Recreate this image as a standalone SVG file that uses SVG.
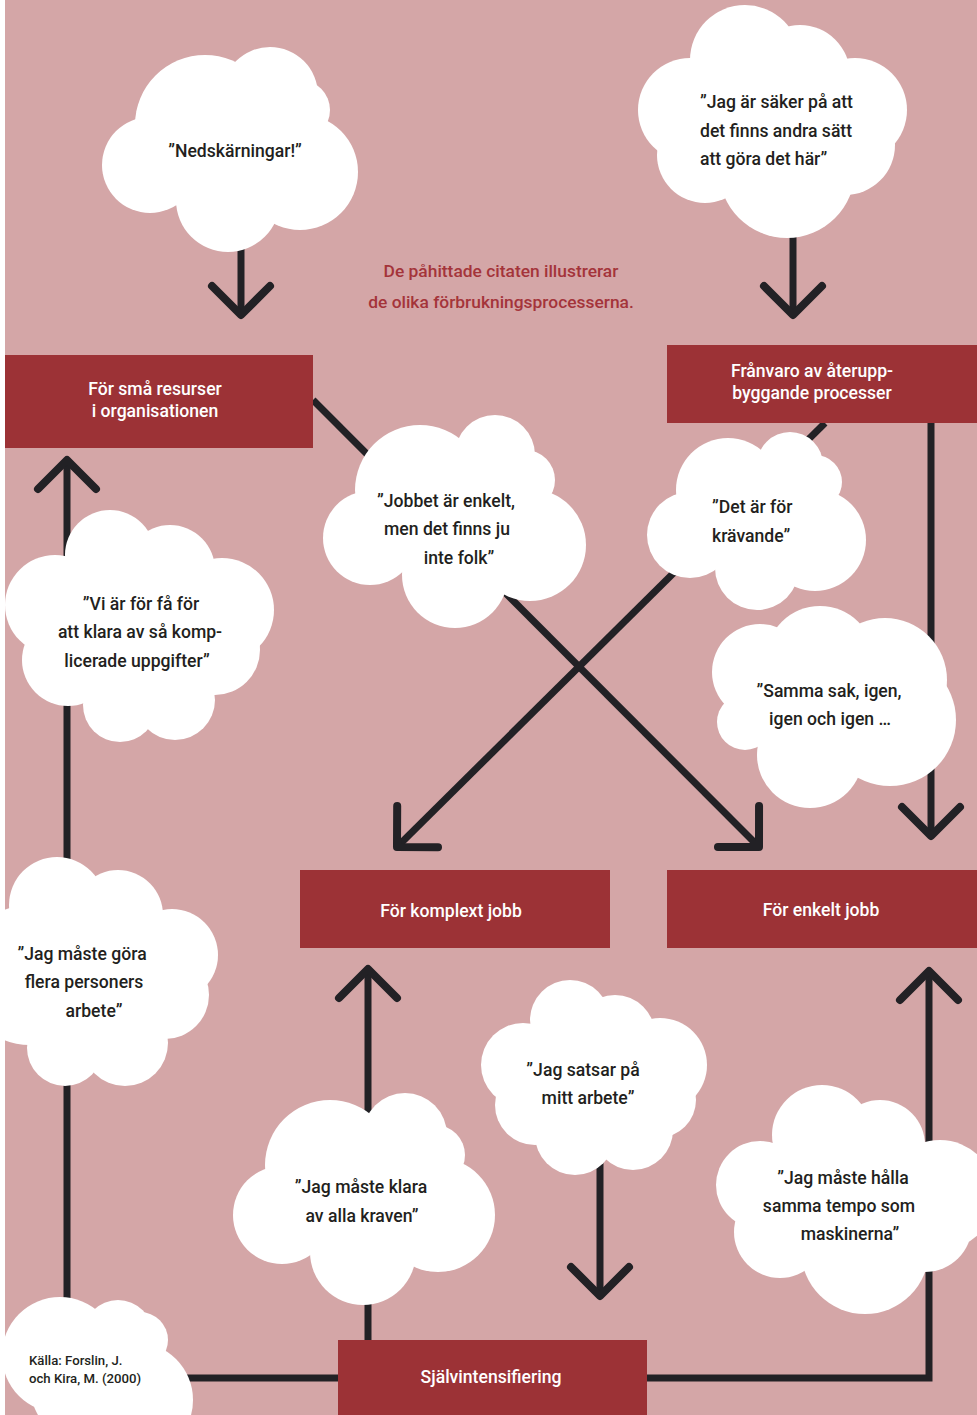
<svg xmlns="http://www.w3.org/2000/svg" width="977" height="1415" viewBox="0 0 977 1415">
<style>
.bg{fill:#d4a6a7}
.box{fill:#9c3236}
.cloud circle{fill:#ffffff}
.conn{fill:none;stroke:#222125;stroke-width:7}
.bt{font-family:Roboto,"Liberation Sans",sans-serif;font-weight:500;font-size:17.6px;fill:#ffffff;text-anchor:middle}
.ct{font-family:Roboto,"Liberation Sans",sans-serif;font-weight:500;font-size:17.6px;fill:#231f20}
.mid{text-anchor:middle}
.note{font-family:Roboto,"Liberation Sans",sans-serif;font-weight:500;font-size:17.4px;fill:#a4343a;text-anchor:middle}
.src{font-family:Roboto,"Liberation Sans",sans-serif;font-weight:500;font-size:13.2px;fill:#231f20}
</style>
<defs>
<marker id="chev" markerUnits="userSpaceOnUse" viewBox="-40 -40 80 80" markerWidth="80" markerHeight="80" refX="0" refY="0" orient="auto">
<path d="M-29,-29 L0,0 L-29,29" fill="none" stroke="#222125" stroke-width="8" stroke-linecap="round" stroke-linejoin="round"/>
</marker>
</defs>
<rect x="0" y="0" width="977" height="1415" fill="#ffffff"/>
<rect class="bg" x="5" y="0" width="972" height="1415"/>

<g id="connectors">
<path class="conn" d="M241,230 L241,315" marker-end="url(#chev)"/>
<path class="conn" d="M793,210 L793,315" marker-end="url(#chev)"/>
<path class="conn" d="M313,400 L759,847" marker-end="url(#chev)"/>
<path class="conn" d="M825,423 L397,847" marker-end="url(#chev)"/>
<path class="conn" d="M931,423 L931,836" marker-end="url(#chev)"/>
<path class="conn" d="M338,1378 L67,1378 L67,460" marker-end="url(#chev)"/>
<path class="conn" d="M647,1378 L929,1378 L929,971" marker-end="url(#chev)"/>
<path class="conn" d="M368,1340 L368,969" marker-end="url(#chev)"/>
<path class="conn" d="M600,1150 L600,1296" marker-end="url(#chev)"/>
</g>

<g id="note">
<text class="note" x="501" y="277">De påhittade citaten illustrerar</text>
<text class="note" x="501" y="308">de olika förbrukningsprocesserna.</text>
</g>

<g id="box-resurser">
<rect class="box" x="5" y="355" width="308" height="93"/>
<text class="bt" x="155" y="395">För små resurser</text>
<text class="bt" x="155" y="417">i organisationen</text>
</g>
<g id="box-franvaro">
<rect class="box" x="667" y="345" width="310" height="78"/>
<text class="bt" x="812" y="377">Frånvaro av återupp-</text>
<text class="bt" x="812" y="399">byggande processer</text>
</g>
<g id="box-komplext">
<rect class="box" x="300" y="870" width="310" height="78"/>
<text class="bt" x="451" y="917">För komplext jobb</text>
</g>
<g id="box-enkelt">
<rect class="box" x="667" y="870" width="310" height="78"/>
<text class="bt" x="821" y="916">För enkelt jobb</text>
</g>
<g id="box-sjalv">
<rect class="box" x="338" y="1340" width="309" height="75"/>
<text class="bt" x="491" y="1383">Självintensifiering</text>
</g>

<g id="cloud-nedskarningar" class="cloud">
<circle cx="205" cy="125" r="70"/>
<circle cx="270" cy="95" r="48"/>
<circle cx="300" cy="110" r="30"/>
<circle cx="300" cy="172" r="58"/>
<circle cx="228" cy="200" r="52"/>
<circle cx="150" cy="165" r="48"/>
<circle cx="230" cy="160" r="70"/>
<text class="ct mid" x="235" y="157">”Nedskärningar!”</text>
</g>

<g id="cloud-saker" class="cloud">
<circle cx="745" cy="60" r="55"/>
<circle cx="800" cy="75" r="50"/>
<circle cx="855" cy="110" r="52"/>
<circle cx="845" cy="145" r="50"/>
<circle cx="787" cy="170" r="68"/>
<circle cx="690" cy="110" r="52"/>
<circle cx="705" cy="155" r="48"/>
<circle cx="770" cy="120" r="70"/>
<text class="ct" x="700" y="108">”Jag är säker på att</text>
<text class="ct" x="700" y="137">det finns andra sätt</text>
<text class="ct" x="700" y="165">att göra det här”</text>
</g>

<g id="cloud-jobbet" class="cloud">
<circle cx="420" cy="490" r="65"/>
<circle cx="495" cy="455" r="40"/>
<circle cx="525" cy="480" r="30"/>
<circle cx="530" cy="545" r="56"/>
<circle cx="455" cy="575" r="53"/>
<circle cx="370" cy="538" r="47"/>
<circle cx="455" cy="520" r="65"/>
<text class="ct mid" x="446" y="507">”Jobbet är enkelt,</text>
<text class="ct mid" x="447" y="535">men det finns ju</text>
<text class="ct mid" x="459" y="564">inte folk”</text>
</g>

<g id="cloud-kravande" class="cloud">
<circle cx="728" cy="490" r="52"/>
<circle cx="790" cy="465" r="33"/>
<circle cx="815" cy="482" r="27"/>
<circle cx="815" cy="540" r="51"/>
<circle cx="757" cy="568" r="42"/>
<circle cx="690" cy="535" r="43"/>
<circle cx="755" cy="520" r="55"/>
<text class="ct" x="712" y="513">”Det är för</text>
<text class="ct" x="712" y="542">krävande”</text>
</g>

<g id="cloud-samma" class="cloud">
<circle cx="820" cy="660" r="54"/>
<circle cx="885" cy="680" r="62"/>
<circle cx="890" cy="720" r="66"/>
<circle cx="810" cy="755" r="53"/>
<circle cx="760" cy="672" r="48"/>
<circle cx="745" cy="722" r="28"/>
<circle cx="830" cy="700" r="70"/>
<text class="ct mid" x="829" y="697">”Samma sak, igen,</text>
<text class="ct mid" x="830" y="725">igen och igen …</text>
</g>

<g id="cloud-vi" class="cloud">
<circle cx="110" cy="555" r="45"/>
<circle cx="170" cy="570" r="45"/>
<circle cx="222" cy="610" r="52"/>
<circle cx="215" cy="650" r="45"/>
<circle cx="120" cy="705" r="37"/>
<circle cx="175" cy="700" r="40"/>
<circle cx="55" cy="605" r="50"/>
<circle cx="68" cy="660" r="46"/>
<circle cx="140" cy="625" r="70"/>
<text class="ct mid" x="141" y="610">”Vi är för få för</text>
<text class="ct mid" x="140" y="638">att klara av så komp-</text>
<text class="ct mid" x="137" y="667">licerade uppgifter”</text>
</g>

<g id="cloud-gora" class="cloud">
<circle cx="57" cy="905" r="48"/>
<circle cx="118" cy="915" r="45"/>
<circle cx="172" cy="955" r="46"/>
<circle cx="165" cy="995" r="44"/>
<circle cx="65" cy="1048" r="38"/>
<circle cx="125" cy="1043" r="43"/>
<circle cx="30" cy="975" r="70"/>
<circle cx="100" cy="970" r="70"/>
<text class="ct mid" x="82" y="960">”Jag måste göra</text>
<text class="ct mid" x="84" y="988">flera personers</text>
<text class="ct mid" x="94" y="1017">arbete”</text>
</g>

<g id="cloud-klara" class="cloud">
<circle cx="330" cy="1165" r="65"/>
<circle cx="405" cy="1135" r="42"/>
<circle cx="435" cy="1155" r="30"/>
<circle cx="438" cy="1215" r="57"/>
<circle cx="363" cy="1252" r="53"/>
<circle cx="282" cy="1215" r="49"/>
<circle cx="365" cy="1200" r="70"/>
<text class="ct mid" x="361" y="1193">”Jag måste klara</text>
<text class="ct mid" x="362" y="1222">av alla kraven”</text>
</g>

<g id="cloud-satsar" class="cloud">
<circle cx="570" cy="1020" r="40"/>
<circle cx="615" cy="1035" r="40"/>
<circle cx="660" cy="1065" r="47"/>
<circle cx="658" cy="1100" r="38"/>
<circle cx="575" cy="1135" r="40"/>
<circle cx="633" cy="1130" r="40"/>
<circle cx="523" cy="1065" r="42"/>
<circle cx="535" cy="1105" r="40"/>
<circle cx="590" cy="1075" r="55"/>
<text class="ct mid" x="583" y="1076">”Jag satsar på</text>
<text class="ct mid" x="588" y="1104">mitt arbete”</text>
</g>

<g id="cloud-halla" class="cloud">
<circle cx="822" cy="1135" r="50"/>
<circle cx="880" cy="1145" r="45"/>
<circle cx="940" cy="1195" r="55"/>
<circle cx="925" cy="1225" r="47"/>
<circle cx="865" cy="1250" r="64"/>
<circle cx="760" cy="1185" r="44"/>
<circle cx="780" cy="1232" r="46"/>
<circle cx="850" cy="1195" r="70"/>
<text class="ct mid" x="843" y="1184">”Jag måste hålla</text>
<text class="ct mid" x="839" y="1212">samma tempo som</text>
<text class="ct mid" x="850" y="1240">maskinerna”</text>
</g>

<g id="cloud-kalla" class="cloud">
<circle cx="60" cy="1355" r="58"/>
<circle cx="118" cy="1335" r="35"/>
<circle cx="140" cy="1340" r="28"/>
<circle cx="135" cy="1400" r="58"/>
<circle cx="90" cy="1385" r="60"/>
<text class="src" x="29" y="1365">Källa: Forslin, J.</text>
<text class="src" x="29" y="1383">och Kira, M. (2000)</text>
</g>
</svg>
